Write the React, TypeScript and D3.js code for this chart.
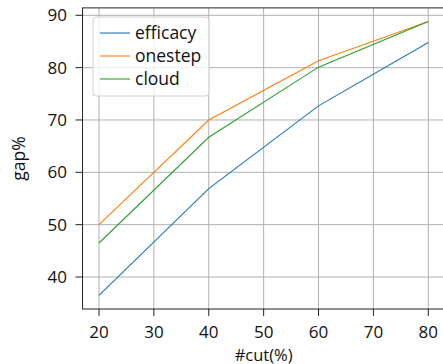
import React, { useEffect, useRef } from "react";
import * as d3 from "d3";

const cuts = [20, 40, 60, 80];
const efficacy = [36.5, 56.9, 72.7, 84.8];
const onestep = [50.0, 70.0, 81.3, 88.8];
const cloud = [46.5, 66.7, 80.1, 88.8];
const xTicks = [20, 30, 40, 50, 60, 70, 80];
const yTicks = [40, 50, 60, 70, 80, 90];
const seriesNames = ["efficacy", "onestep", "cloud"];

const W = 443;
const H = 364;
const FONT = "'Open Sans', sans-serif";

export default function App() {
  const svgRef = useRef<SVGSVGElement | null>(null);

  useEffect(() => {
    document.body.style.margin = "0";
    const svg = d3.select(svgRef.current);
    svg.selectAll("*").remove();

    const series = [efficacy, onestep, cloud];
    const colors = ["#1f77b4", "#ff7f0e", "#2ca02c"];

    // marges de 5% autour des données, comme matplotlib
    const xMin = d3.min(cuts)!, xMax = d3.max(cuts)!;
    const all = series.flat();
    const yMin = d3.min(all)!, yMax = d3.max(all)!;
    const xPad = (xMax - xMin) * 0.05;
    const yPad = (yMax - yMin) * 0.05;

    const x = d3.scaleLinear().domain([20, 80]).range([99, 428.3]);
    const y = d3.scaleLinear().domain([40, 90]).range([277, 15.3]);

    const left = x(xMin - xPad);
    const right = x(xMax + xPad);
    const top = y(yMax + yPad);
    const bottom = y(yMin - yPad);

    const g = svg.append("g");

    // grille
    g.selectAll(".gx").data(xTicks).join("line")
      .attr("x1", d => x(d)).attr("x2", d => x(d))
      .attr("y1", top).attr("y2", bottom)
      .attr("stroke", "#b0b0b0").attr("stroke-width", 1);
    g.selectAll(".gy").data(yTicks).join("line")
      .attr("x1", left).attr("x2", right)
      .attr("y1", d => y(d)).attr("y2", d => y(d))
      .attr("stroke", "#b0b0b0").attr("stroke-width", 1);

    // courbes
    series.forEach((vals, i) => {
      const line = d3.line<number>()
        .x((_, j) => x(cuts[j]))
        .y(v => y(v));
      g.append("path")
        .datum(vals)
        .attr("fill", "none")
        .attr("stroke", colors[i])
        .attr("stroke-width", 1.1)
        .attr("d", line);
    });

    // cadre
    g.append("rect")
      .attr("x", left).attr("y", top)
      .attr("width", right - left).attr("height", bottom - top)
      .attr("fill", "none").attr("stroke", "#222").attr("stroke-width", 1);

    // graduations
    g.selectAll(".tx").data(xTicks).join("line")
      .attr("x1", d => x(d)).attr("x2", d => x(d))
      .attr("y1", bottom).attr("y2", bottom + 7)
      .attr("stroke", "#222");
    g.selectAll(".ty").data(yTicks).join("line")
      .attr("x1", left - 7).attr("x2", left)
      .attr("y1", d => y(d)).attr("y2", d => y(d))
      .attr("stroke", "#222");

    g.selectAll(".lx").data(xTicks).join("text")
      .attr("x", d => x(d)).attr("y", bottom + 28.5)
      .attr("text-anchor", "middle")
      .attr("font-family", FONT).attr("font-size", 17)
      .attr("fill", "#111")
      .text(d => d);
    g.selectAll(".ly").data(yTicks).join("text")
      .attr("x", left - 15.5).attr("y", d => y(d) + 6)
      .attr("text-anchor", "end")
      .attr("font-family", FONT).attr("font-size", 17)
      .attr("fill", "#111")
      .text(d => d);

    // titres des axes
    g.append("text")
      .attr("x", (left + right) / 2).attr("y", 360.5)
      .attr("text-anchor", "middle")
      .attr("font-family", FONT).attr("font-size", 16.5)
      .attr("fill", "#111")
      .text("#cut(%)");
    g.append("text")
      .attr("transform", `translate(25,${(top + bottom) / 2}) rotate(-90)`)
      .attr("text-anchor", "middle")
      .attr("font-family", FONT).attr("font-size", 17.5)
      .attr("fill", "#111")
      .text("gap%");

    // légende
    const lg = g.append("g");
    lg.append("rect")
      .attr("x", 93).attr("y", 17).attr("width", 116).attr("height", 79)
      .attr("rx", 3)
      .attr("fill", "white").attr("fill-opacity", 0.8)
      .attr("stroke", "#d0d0d0").attr("stroke-width", 1);
    seriesNames.forEach((name, i) => {
      const yy = 33 + i * 23;
      lg.append("line")
        .attr("x1", 100).attr("x2", 130)
        .attr("y1", yy).attr("y2", yy)
        .attr("stroke", colors[i]).attr("stroke-width", 1.1);
      lg.append("text")
        .attr("x", 135).attr("y", yy + 6)
        .attr("font-family", FONT).attr("font-size", 17.5)
        .attr("fill", "#111")
        .text(name);
    });
  }, []);

  return <svg ref={svgRef} width={W} height={H} style={{ display: "block", background: "white" }} />;
}
